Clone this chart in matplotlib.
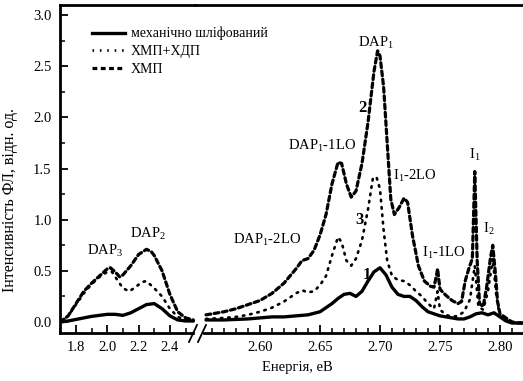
import matplotlib
matplotlib.use("Agg")
import matplotlib.pyplot as plt
from matplotlib.lines import Line2D
from matplotlib.ticker import MultipleLocator

plt.rcParams['font.family'] = ['Liberation Serif', 'DejaVu Serif']
plt.rcParams['mathtext.fontset'] = 'custom'
plt.rcParams['mathtext.rm'] = 'Liberation Serif'

# ---------------- data ----------------
labels = ["механічно шліфований", "ХМП+ХДП", "ХМП"]

# left segment (1.7 - 2.55 eV)
solid_left_x = [1.70, 1.75, 1.80, 1.85, 1.90, 1.95, 2.00, 2.05, 2.10, 2.15, 2.20, 2.25, 2.30, 2.35, 2.40, 2.45, 2.50, 2.55]
solid_left_y = [0.0, 0.01, 0.025, 0.04, 0.055, 0.065, 0.075, 0.075, 0.065, 0.09, 0.13, 0.17, 0.18, 0.13, 0.06, 0.02, 0.01, 0.01]

dash_left_x = [1.70, 1.75, 1.80, 1.85, 1.90, 1.95, 2.00, 2.02, 2.05, 2.08, 2.10, 2.15, 2.20, 2.25, 2.28, 2.30, 2.35, 2.40, 2.45, 2.50, 2.55]
dash_left_y = [0.0, 0.06, 0.18, 0.30, 0.38, 0.45, 0.52, 0.53, 0.49, 0.44, 0.46, 0.55, 0.66, 0.71, 0.69, 0.65, 0.50, 0.27, 0.10, 0.04, 0.02]

dot_left_x = [1.70, 1.75, 1.80, 1.85, 1.90, 1.95, 2.00, 2.03, 2.06, 2.10, 2.14, 2.18, 2.22, 2.25, 2.30, 2.35, 2.40, 2.45, 2.50, 2.55]
dot_left_y = [0.0, 0.06, 0.17, 0.28, 0.37, 0.44, 0.49, 0.49, 0.42, 0.33, 0.30, 0.34, 0.39, 0.40, 0.33, 0.25, 0.13, 0.05, 0.02, 0.01]

# right segment (2.555 - 2.82 eV)
solid_right_x = [2.555, 2.57, 2.59, 2.60, 2.61, 2.62, 2.63, 2.64, 2.65, 2.66, 2.665, 2.67, 2.675, 2.68, 2.685,
                 2.69, 2.695, 2.70, 2.705, 2.71, 2.715, 2.72, 2.725, 2.73, 2.735, 2.74, 2.745, 2.75, 2.755,
                 2.76, 2.765, 2.77, 2.775, 2.78, 2.785, 2.79, 2.795, 2.80, 2.805, 2.81, 2.815, 2.82]
solid_right_y = [0.02, 0.02, 0.03, 0.04, 0.05, 0.05, 0.06, 0.07, 0.10, 0.18, 0.23, 0.27, 0.28, 0.25, 0.30,
                 0.40, 0.49, 0.53, 0.46, 0.34, 0.27, 0.25, 0.25, 0.21, 0.15, 0.10, 0.08, 0.06, 0.05,
                 0.04, 0.03, 0.03, 0.05, 0.08, 0.09, 0.07, 0.09, 0.05, 0.01, -0.01, -0.01, -0.01]

dash_right_x = [2.555, 2.57, 2.58, 2.59, 2.60, 2.61, 2.62, 2.63, 2.635, 2.64, 2.645, 2.65, 2.655, 2.66, 2.665,
                2.668, 2.672, 2.676, 2.68, 2.685, 2.69, 2.695, 2.698, 2.70, 2.703, 2.706, 2.709, 2.712,
                2.716, 2.72, 2.723, 2.727, 2.732, 2.737, 2.742, 2.745, 2.747, 2.748, 2.750, 2.755, 2.76,
                2.765, 2.768, 2.771, 2.774, 2.777, 2.779, 2.781, 2.783, 2.786, 2.789, 2.792, 2.794, 2.796,
                2.798, 2.80, 2.805, 2.81, 2.815, 2.82]
dash_right_y = [0.07, 0.10, 0.13, 0.17, 0.21, 0.28, 0.38, 0.52, 0.60, 0.62, 0.70, 0.85, 1.05, 1.35, 1.56,
                1.55, 1.35, 1.22, 1.28, 1.55, 1.95, 2.45, 2.65, 2.60, 2.30, 1.75, 1.20, 1.05,
                1.12, 1.21, 1.17, 0.85, 0.55, 0.40, 0.35, 0.34, 0.45, 0.52, 0.32, 0.26, 0.21,
                0.18, 0.20, 0.40, 0.52, 0.62, 1.47, 0.60, 0.18, 0.15, 0.35, 0.62, 0.75, 0.50,
                0.20, 0.08, 0.04, 0.0, -0.01, -0.01]

dot_right_x = [2.555, 2.57, 2.58, 2.59, 2.60, 2.61, 2.62, 2.63, 2.635, 2.64, 2.645, 2.65, 2.655, 2.66, 2.665,
               2.668, 2.672, 2.676, 2.68, 2.685, 2.69, 2.694, 2.697, 2.70, 2.703, 2.706, 2.71, 2.715,
               2.72, 2.725, 2.73, 2.735, 2.74, 2.745, 2.748, 2.75, 2.755, 2.76, 2.765, 2.77, 2.775,
               2.779, 2.782, 2.786, 2.79, 2.794, 2.797, 2.80, 2.805, 2.81, 2.82]
dot_right_y = [0.03, 0.04, 0.05, 0.07, 0.10, 0.14, 0.20, 0.28, 0.31, 0.29, 0.30, 0.36, 0.45, 0.65, 0.83,
               0.78, 0.60, 0.55, 0.62, 0.80, 1.10, 1.40, 1.42, 1.30, 0.90, 0.60, 0.45, 0.41,
               0.40, 0.36, 0.30, 0.25, 0.18, 0.13, 0.30, 0.12, 0.07, 0.05, 0.06, 0.10, 0.22,
               0.55, 0.15, 0.12, 0.30, 0.62, 0.25, 0.05, 0.02, 0.0, -0.01]

# ---------------- figure ----------------
W, H = 523, 381
fig = plt.figure(figsize=(W / 100, H / 100), dpi=100)

def fx(px):
    return px / W

def fy(py):
    return 1 - py / H

ax_bottom = fy(333)
ax_h = fy(5) - fy(333)
ax1 = fig.add_axes([fx(60), ax_bottom, fx(195) - fx(60), ax_h])
ax2 = fig.add_axes([fx(195), ax_bottom, fx(523) - fx(195), ax_h], sharey=ax1)
ax2.patch.set_visible(False)

ylo, yhi = -0.1075, 3.098
ax1.set_ylim(ylo, yhi)
ax1.set_xlim(1.6978, 2.5604)
ax2.set_xlim(2.5458, 2.8192)

lw_s, lw_d, lw_o = 2.4, 2.3, 1.9
dash_style = (0, (1.5, 1.1))
dot_style = (0, (0.6, 2.2))

for ax, (sx, sy, ox, oy, dx, dy) in [
    (ax1, (solid_left_x, solid_left_y, dot_left_x, dot_left_y, dash_left_x, dash_left_y)),
    (ax2, (solid_right_x, solid_right_y, dot_right_x, dot_right_y, dash_right_x, dash_right_y)),
]:
    ax.plot(sx, sy, color='black', lw=lw_s, solid_capstyle='round', solid_joinstyle='round')
    ax.plot(ox, oy, color='black', lw=lw_o, linestyle=dot_style, dash_capstyle='round')
    ax.plot(dx, dy, color='black', lw=lw_d, linestyle=dash_style, dash_capstyle='round')

# spines
for ax in (ax1, ax2):
    for s in ax.spines.values():
        s.set_linewidth(2.0)
ax1.spines['right'].set_visible(False)
ax2.spines['left'].set_visible(False)
ax2.spines['right'].set_visible(False)
ax1.spines['bottom'].set_bounds(1.6978, 2.548)
ax2.spines['bottom'].set_bounds(2.553, 2.8192)

# ticks
ax1.set_yticks([0.0, 0.5, 1.0, 1.5, 2.0, 2.5, 3.0])
ax1.set_yticklabels(["0.0", "0.5", "1.0", "1.5", "2.0", "2.5", "3.0"])
ax1.yaxis.set_minor_locator(MultipleLocator(0.25))
ax1.set_xticks([1.8, 2.0, 2.2, 2.4])
ax1.set_xticklabels(["1.8", "2.0", "2.2", "2.4"])
ax1.set_xticks([1.7, 1.9, 2.1, 2.3, 2.5], minor=True)
ax2.set_xticks([2.60, 2.65, 2.70, 2.75, 2.80])
ax2.set_xticklabels(["2.60", "2.65", "2.70", "2.75", "2.80"])
ax2.set_xticks([2.56, 2.57, 2.58, 2.59, 2.61, 2.62, 2.63, 2.64, 2.66, 2.67, 2.68, 2.69,
                2.71, 2.72, 2.73, 2.74, 2.76, 2.77, 2.78, 2.79, 2.81], minor=True)

for ax in (ax1, ax2):
    ax.tick_params(which='major', direction='in', length=6, width=1.3, labelsize=10.5, pad=6,
                   top=False, right=False)
    ax.tick_params(which='minor', direction='in', length=3.5, width=1.1, top=False, right=False)
ax2.tick_params(axis='y', which='both', left=False, labelleft=False)

# break marks
for x0 in (189, 198):
    fig.add_artist(Line2D([fx(x0), fx(x0 + 8)], [fy(342), fy(325)], color='black', lw=1.3))

# labels
fig.text(fx(10), fy(200), "Інтенсивність ФЛ, відн. од.", rotation=90, ha='center', va='center', fontsize=11.5)
fig.text(fx(297), fy(368), "Енергія, еВ", ha='center', va='center', fontsize=10.5)

# annotations
fs = 10.5
ax1.text(1.985, 0.70, r"DAP$_{3}$", ha='center', va='center', fontsize=fs)
ax1.text(2.26, 0.86, r"DAP$_{2}$", ha='center', va='center', fontsize=fs)
ax2.text(2.606, 0.80, r"DAP$_{1}$-2LO", ha='center', va='center', fontsize=fs)
ax2.text(2.652, 1.72, r"DAP$_{1}$-1LO", ha='center', va='center', fontsize=fs)
ax2.text(2.697, 2.73, r"DAP$_{1}$", ha='center', va='center', fontsize=fs)
ax2.text(2.729, 1.43, r"I$_{1}$-2LO", ha='center', va='center', fontsize=fs)
ax2.text(2.753, 0.68, r"I$_{1}$-1LO", ha='center', va='center', fontsize=fs)
ax2.text(2.779, 1.64, r"I$_{1}$", ha='center', va='center', fontsize=fs)
ax2.text(2.791, 0.91, r"I$_{2}$", ha='center', va='center', fontsize=fs)
ax2.text(2.685, 2.09, "2", ha='center', va='center', fontsize=12, fontweight='bold')
ax2.text(2.683, 1.00, "3", ha='center', va='center', fontsize=12, fontweight='bold')
ax2.text(2.689, 0.46, "1", ha='center', va='center', fontsize=12, fontweight='bold')

# legend
handles = [
    Line2D([], [], color='black', lw=lw_s),
    Line2D([], [], color='black', lw=lw_o, linestyle=dot_style),
    Line2D([], [], color='black', lw=lw_d, linestyle=dash_style),
]
fig.legend(handles, labels, loc='upper left', bbox_to_anchor=(fx(92), fy(27)), frameon=False,
           fontsize=10, handlelength=2.4, handletextpad=0.4, labelspacing=0.35, borderpad=0,
           borderaxespad=0)

fig.savefig("out.png", dpi=100)
